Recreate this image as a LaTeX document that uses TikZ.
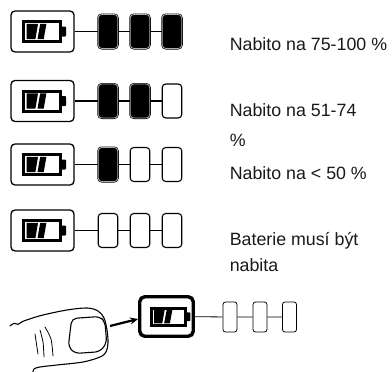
\documentclass[tikz,border=0pt]{standalone}
\usepackage{fontspec}
\setmainfont{Liberation Sans}
\usetikzlibrary{arrows.meta}

\tikzset{
  frame/.style={draw, line width=1.3pt, rounded corners=4pt, fill=white,
    minimum width=63pt, minimum height=41pt, inner sep=0pt},
  bigframe/.style={draw, line width=3.4pt, rounded corners=5pt, fill=white,
    minimum width=53.5pt, minimum height=39.5pt, inner sep=0pt},
  seg/.style={rectangle, rounded corners=3.5pt, minimum width=19.5pt,
    minimum height=34pt, inner sep=0pt},
  segfull/.style={seg, draw=black, line width=0.6pt, double=gray!65,
    double distance=0.8pt, fill=black},
  segempty/.style={seg, draw=black, line width=1.1pt, fill=white},
  smallseg/.style={rectangle, rounded corners=2.5pt, minimum width=14pt,
    minimum height=30pt, inner sep=0pt, draw=black, line width=0.8pt, fill=white},
  link/.style={line width=1.5pt},
  thinlink/.style={line width=0.8pt},
  label/.style={anchor=base west, inner sep=0pt, text=black!90,
    font=\fontsize{17.8}{20}\selectfont},
  fingerline/.style={line width=1.1pt, line cap=round, line join=round},
  glyph/.pic={
    \draw[line width=3pt] (-18.5,-10) rectangle (18.5,10);
    \fill[rounded corners=0.8pt] (19.5,-5) -- (24,-5) -- (24,5) -- (19.5,5) -- cycle;
    \fill (-15.5,-7.6) -- (-4,-7.6) -- (-6.6,7.6) -- (-15.5,7.6) -- cycle;
    \fill (-1.8,-7.6) -- (4.4,-7.6) -- (1.7,7.6) -- (-4.5,7.6) -- cycle;
  }
}

\begin{document}
\begin{tikzpicture}[x=1pt, y=-1pt]
\useasboundingbox (0,0) rectangle (392,372);

% charge level rows: frame, glyph and three level segments
\foreach \r/\y/\a/\b/\c in {1/31.5/segfull/segfull/segfull,
                             2/101/segfull/segfull/segempty,
                             3/164.5/segfull/segempty/segempty,
                             4/230.5/segempty/segempty/segempty}{
  \node[frame] (b\r) at (42.5,\y) {};
  \pic at (42,\y) {glyph};
  \node[\a] (s\r a) at (108,\y) {};
  \node[\b] (s\r b) at (140,\y) {};
  \node[\c] (s\r c) at (172,\y) {};
  \draw[link] (b\r) -- (s\r a) (s\r a) -- (s\r b) (s\r b) -- (s\r c);
}

% captions
\node[label] (t1) at (229.6,50) {Nabito na 75-100 \%};
\node[label] (t2) at (229.6,116) {Nabito na 51-74};
\node[label] (t2b) at (229.6,146.7) {\%};
\node[label] (t3) at (229.6,179) {Nabito na < 50 \%};
\node[label] (t4) at (229.6,245) {Baterie musí být};
\node[label] (t4b) at (229.6,271.7) {nabita};

% button being pressed
\node[bigframe] (b5) at (166.5,316.5) {};
\pic[xscale=0.92, yscale=0.87] at (168.3,316.7) {glyph};
\node[smallseg] (s5a) at (230,317) {};
\node[smallseg] (s5b) at (260,317) {};
\node[smallseg] (s5c) at (289.5,317) {};
\draw[thinlink] (b5) -- (s5a) (s5a) -- (s5b) (s5b) -- (s5c);

% finger
\draw[fingerline] plot[smooth, tension=0.55] coordinates {
  (10,326) (14,323.3) (18,324.3) (22,321.8) (28,319.5) (43,315) (67,310)
  (87,308) (98,311) (104,318) (107,330) (108,343) (106,352) (100,357)
  (83,362) (57,365) (40,367) (34,369) (33,372)};
\draw[fingerline, rounded corners=5pt] (71.7,318.5) -- (68.3,346.7) -- (75,353.5)
  -- (100,351.7) -- (106.7,343) -- (105,322) -- (100,316.5) -- cycle;
\draw[fingerline, line width=0.8pt] plot[smooth] coordinates {(35,334) (36.5,344) (38,354)};
\draw[fingerline, line width=0.8pt] plot[smooth] coordinates {(40,330) (43,342) (44,357)};
\draw[fingerline, line width=0.8pt] plot[smooth] coordinates {(45,327) (51,339) (53,356)};

% press arrow
\coordinate (push) at (110,326);
\draw[line width=2.2pt, -{Stealth[length=8pt, width=7pt]}] (push) -- ([yshift=-2.5pt]b5.west);
\end{tikzpicture}
\end{document}
